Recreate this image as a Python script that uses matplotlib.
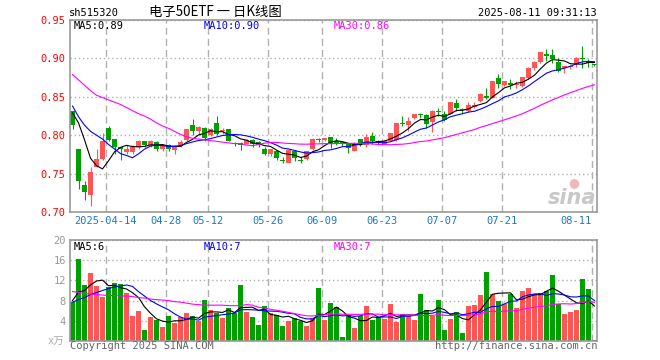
import numpy as np
import pandas as pd
import matplotlib
matplotlib.use('Agg')
import matplotlib.pyplot as plt

# trading days on the chart, 2025-04-03 .. 2025-08-11 (exchange holidays removed)
holidays = ['2025-04-04', '2025-05-01', '2025-05-02', '2025-05-05', '2025-06-02']
dates = pd.bdate_range('2025-04-03', '2025-08-11')
dates = dates[~dates.isin(pd.to_datetime(holidays))]

opens = [0.831, 0.782, 0.735, 0.722, 0.758, 0.769, 0.810, 0.795, 0.784, 0.778,
         0.778, 0.784, 0.792, 0.787, 0.791, 0.782, 0.787, 0.781, 0.786, 0.794,
         0.813, 0.805, 0.810, 0.800, 0.8155, 0.805, 0.808, 0.790, 0.790, 0.789,
         0.794, 0.791, 0.782, 0.775, 0.779, 0.768, 0.764, 0.780, 0.768, 0.769,
         0.782, 0.795, 0.794, 0.798, 0.793, 0.791, 0.7885, 0.780, 0.795, 0.787,
         0.799, 0.793, 0.789, 0.793, 0.794, 0.816, 0.813, 0.822, 0.827, 0.826,
         0.817, 0.831, 0.828, 0.827, 0.842, 0.834, 0.832, 0.837, 0.845, 0.851,
         0.849, 0.875, 0.865, 0.868, 0.865, 0.864, 0.875, 0.888, 0.895, 0.906,
         0.904, 0.8948, 0.8874, 0.8883, 0.8926, 0.900, 0.894, 0.892]
highs = [0.832, 0.782, 0.740, 0.759, 0.782, 0.803, 0.812, 0.795, 0.785, 0.787,
         0.787, 0.794, 0.793, 0.794, 0.792, 0.788, 0.788, 0.786, 0.794, 0.808,
         0.821, 0.812, 0.811, 0.809, 0.825, 0.809, 0.808, 0.791, 0.791, 0.795,
         0.795, 0.792, 0.785, 0.782, 0.781, 0.772, 0.782, 0.780, 0.771, 0.780,
         0.796, 0.797, 0.797, 0.798, 0.796, 0.793, 0.789, 0.791, 0.795, 0.802,
         0.804, 0.794, 0.794, 0.803, 0.816, 0.825, 0.824, 0.828, 0.829, 0.827,
         0.833, 0.836, 0.832, 0.843, 0.847, 0.836, 0.843, 0.843, 0.855, 0.861,
         0.870, 0.880, 0.870, 0.873, 0.871, 0.876, 0.889, 0.896, 0.908, 0.912,
         0.912, 0.9004, 0.8904, 0.891, 0.902, 0.9165, 0.899, 0.893]
lows = [0.808, 0.730, 0.716, 0.708, 0.758, 0.768, 0.792, 0.776, 0.768, 0.776,
        0.775, 0.782, 0.785, 0.785, 0.779, 0.780, 0.779, 0.776, 0.785, 0.792,
        0.800, 0.800, 0.792, 0.799, 0.800, 0.802, 0.792, 0.786, 0.781, 0.788,
        0.785, 0.784, 0.774, 0.773, 0.768, 0.764, 0.764, 0.766, 0.764, 0.768,
        0.781, 0.791, 0.792, 0.783, 0.787, 0.786, 0.777, 0.779, 0.786, 0.785,
        0.789, 0.788, 0.788, 0.792, 0.793, 0.812, 0.806, 0.821, 0.823, 0.810,
        0.804, 0.825, 0.819, 0.827, 0.832, 0.828, 0.830, 0.835, 0.843, 0.847,
        0.848, 0.861, 0.864, 0.860, 0.862, 0.863, 0.873, 0.885, 0.894, 0.896,
        0.8935, 0.8817, 0.8804, 0.886, 0.889, 0.888, 0.889, 0.890]
closes = [0.813, 0.741, 0.726, 0.7525, 0.769, 0.792, 0.794, 0.784, 0.782, 0.782,
          0.784, 0.792, 0.787, 0.792, 0.782, 0.786, 0.782, 0.786, 0.791, 0.808,
          0.806, 0.811, 0.796, 0.808, 0.802, 0.806, 0.792, 0.789, 0.787, 0.794,
          0.788, 0.787, 0.776, 0.782, 0.770, 0.767, 0.781, 0.770, 0.767, 0.779,
          0.795, 0.794, 0.797, 0.789, 0.789, 0.789, 0.783, 0.789, 0.7885, 0.798,
          0.793, 0.790, 0.792, 0.803, 0.816, 0.814, 0.818, 0.828, 0.826, 0.814,
          0.832, 0.830, 0.820, 0.843, 0.836, 0.833, 0.839, 0.839, 0.8535, 0.848,
          0.870, 0.8665, 0.870, 0.866, 0.866, 0.876, 0.887, 0.8955, 0.9078, 0.903,
          0.899, 0.883, 0.8904, 0.890, 0.9004, 0.899, 0.8935, 0.891]
# volume in 万
volumes = [7.8, 16.3, 11.0, 13.5, 10.8, 8.7, 10.7, 11.4, 11.2, 9.5,
           5.0, 6.0, 2.2, 4.7, 4.1, 2.7, 5.0, 3.5, 4.7, 5.5,
           5.0, 3.9, 8.2, 6.2, 5.5, 4.5, 6.5, 5.5, 11.0, 5.8,
           4.7, 3.2, 7.0, 5.5, 5.1, 2.9, 4.0, 4.5, 4.0, 2.9,
           4.6, 10.5, 4.2, 7.5, 6.8, 0.7, 5.1, 2.5, 5.0, 7.0,
           4.2, 4.5, 4.3, 7.4, 3.8, 5.4, 4.9, 4.2, 9.4, 6.2,
           5.0, 8.2, 2.2, 4.4, 5.8, 1.6, 7.0, 7.2, 9.2, 13.6,
           9.3, 8.0, 7.4, 9.4, 6.6, 10.0, 10.4, 9.3, 9.6, 10.0,
           13.0, 7.4, 5.4, 5.8, 6.2, 12.2, 10.2, 0.2]

# MA values before a full window exists
ma5_head = [0.829, 0.816, 0.794, 0.770]
ma10_head = [0.838, 0.824, 0.813, 0.805, 0.800, 0.795, 0.788, 0.782, 0.776]
ma30_head = [0.879, 0.872, 0.865, 0.858, 0.852, 0.849, 0.846, 0.843, 0.840, 0.836,
             0.832, 0.828, 0.825, 0.821, 0.816, 0.812, 0.809, 0.805, 0.801, 0.798,
             0.796, 0.795, 0.794, 0.793, 0.792, 0.791, 0.790, 0.789, 0.789]
vma5_head = [8.0, 9.7, 10.0, 11.1]
vma10_head = [7.7, 8.2, 8.6, 9.2, 9.6, 10.0, 10.4, 10.7, 10.9]
vma30_head = [9.8, 9.6, 9.4, 9.3, 9.2, 9.1, 9.0, 9.0, 8.9, 8.9,
              8.8, 8.6, 8.5, 8.3, 8.2, 8.1, 8.0, 7.8, 7.7, 7.5,
              7.3, 7.2, 7.1, 7.1, 7.1, 7.1, 7.0, 7.0, 7.0]

tick_dates = ['2025-04-14', '2025-04-28', '2025-05-12', '2025-05-26', '2025-06-09',
              '2025-06-23', '2025-07-07', '2025-07-21', '2025-08-11']
tick_labels = ['2025-04-14', '04-28', '05-12', '05-26', '06-09', '06-23', '07-07', '07-21', '08-11']

price_ticks = [0.70, 0.75, 0.80, 0.85, 0.90, 0.95]
vol_ticks = [4, 8, 12, 16, 20]


def moving_avg(vals, n, head):
    s = pd.Series(vals).rolling(n).mean().to_numpy()
    s[:len(head)] = head
    return s


RED = '#ff5555'
GREEN = '#00a000'
GRID = '#b0b0b0'
MONO = 'DejaVu Sans Mono'
LW = 0.8

x = np.arange(len(closes))
o = np.array(opens)
c = np.array(closes)
cols = np.where(c >= o, RED, GREEN)
gx = np.array([dates.get_loc(pd.Timestamp(d)) for d in tick_dates]) - 0.42

W, H = 660, 360
fig = plt.figure(figsize=(6.6, 3.6), dpi=100)


def frac(px, py):
    return px / W, 1 - py / H


ax = fig.add_axes([70 / W, 1 - 212 / H, 527 / W, 192 / H])
ax2 = fig.add_axes([70 / W, 1 - 341 / H, 527 / W, 101 / H])

for a in (ax, ax2):
    a.set_xlim(-0.42, len(closes) - 0.58)
    a.set_axisbelow(True)
    for s in a.spines.values():
        s.set_color('#999999')
        s.set_linewidth(1.2)
    a.set_xticks(gx)
    a.grid(axis='x', color=GRID, linestyle=(0, (5, 3)), linewidth=1)
    a.grid(axis='y', color=GRID, linestyle=(0, (1, 2)), linewidth=1)
    a.tick_params(length=0, labelsize=7.5, pad=3)
    for lab in a.get_xticklabels() + a.get_yticklabels():
        lab.set_fontfamily(MONO)

# candles
body_lo = np.minimum(o, c)
body_h = np.maximum(np.abs(c - o), 0.0012)
ax.vlines(x, lows, highs, colors=cols, linewidth=LW)
ax.bar(x, body_h, 0.83, bottom=body_lo, color=cols, linewidth=0)
ax.plot(x, moving_avg(closes, 5, ma5_head), color='black', lw=LW)
ax.plot(x, moving_avg(closes, 10, ma10_head), color='#0000ff', lw=LW)
ax.plot(x, moving_avg(closes, 30, ma30_head), color='#ff00ff', lw=LW)
ax.set_ylim(0.70, 0.95)
ax.set_yticks(price_ticks)
ax.set_yticklabels(['%.2f' % t for t in price_ticks], color='red', fontfamily=MONO)
ax.set_xticklabels(tick_labels, color='#1f78c8', fontfamily=MONO)
ax.get_xticklabels()[-1].set_ha('right')

# volume
ax2.bar(x, volumes, 0.83, color=cols, linewidth=0)
ax2.plot(x, moving_avg(volumes, 5, vma5_head), color='black', lw=LW)
ax2.plot(x, moving_avg(volumes, 10, vma10_head), color='#0000ff', lw=LW)
ax2.plot(x, moving_avg(volumes, 30, vma30_head), color='#ff00ff', lw=LW)
ax2.set_ylim(0, 20)
ax2.set_yticks(vol_ticks)
ax2.set_yticklabels([str(t) for t in vol_ticks], color='#999999', fontfamily=MONO)
ax2.set_xticklabels([])

# header texts
fig.text(*frac(69, 13), 'sh515320', fontsize=7.5, family=MONO, va='center')
fig.text(*frac(149, 12), '电子50ETF 一 日K线图', fontsize=9.6,
         family=['Noto Sans CJK SC', 'DejaVu Sans'], va='center')
fig.text(*frac(597, 13), '2025-08-11 09:31:13', fontsize=7.5, family=MONO,
         va='center', ha='right')

# MA legends
for (px, txt, col) in [(74, 'MA5:0.89', 'black'), (204, 'MA10:0.90', '#0000ff'),
                       (334, 'MA30:0.86', '#ff00ff')]:
    fig.text(*frac(px, 26), txt, fontsize=7.5, family=MONO, color=col, va='center')
for (px, txt, col) in [(74, 'MA5:6', 'black'), (204, 'MA10:7', '#0000ff'),
                       (334, 'MA30:7', '#ff00ff')]:
    fig.text(*frac(px, 247), txt, fontsize=7.5, family=MONO, color=col, va='center')

# footer
fig.text(*frac(64, 342), 'x万', fontsize=7.5, family=[MONO, 'Noto Sans CJK SC'],
         color='#aaaaaa', ha='right', va='center')
fig.text(*frac(70, 346), 'Copyright 2025 SINA.COM', fontsize=7.5, family=MONO,
         color='#666666', va='center')
fig.text(*frac(597, 346), 'http://finance.sina.com.cn', fontsize=7.5, family=MONO,
         color='#666666', va='center', ha='right')

# sina watermark
fig.text(*frac(572, 198), 'sina', fontsize=15, style='italic', weight='bold',
         color='#c8c8c8', ha='center', va='center')
fig.text(*frac(574, 183), '●', fontsize=9, color='#f0b8b8', ha='center', va='center')

fig.savefig('out.png', dpi=100)
